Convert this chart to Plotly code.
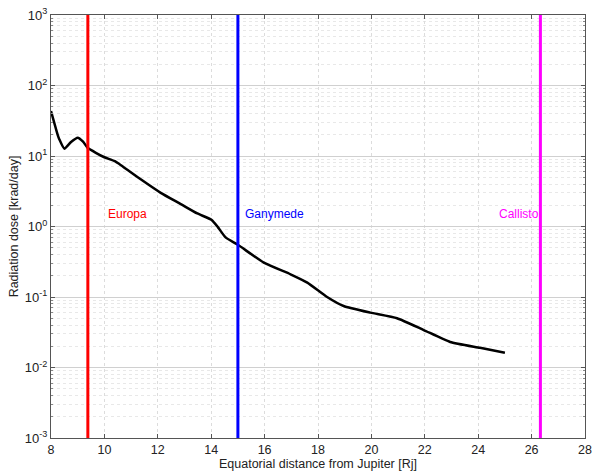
import math
import plotly.graph_objects as go

distance_rj = [8.0, 8.25, 8.31, 8.5, 8.75, 9.0, 9.2, 9.37, 9.68, 10.0, 10.37, 10.62, 11.36, 12.11, 12.86,
               13.48, 14.02, 14.25, 14.54, 15.0, 15.97, 16.97, 17.6, 18.34, 18.96, 19.96, 20.96, 21.96,
               22.95, 24.07, 25.0]
dose_krad_day = [43.5, 20.0, 17.3, 12.7, 15.8, 18.2, 16.0, 13.1, 11.1, 9.6, 8.5, 7.4, 4.67, 3.0, 2.08,
                 1.53, 1.24, 0.98, 0.7, 0.55, 0.307, 0.21, 0.16, 0.1, 0.0745, 0.06, 0.05, 0.034,
                 0.023, 0.019, 0.0162]

moon_names = ["Europa", "Ganymede", "Callisto"]
moon_distance = [9.38, 15.0, 26.33]
moon_colors = ["#ff0000", "#0000ff", "#ff00ff"]
label_x = [10.05, 15.2, 24.72]
label_y = [1.5, 1.5, 1.5]

x_ticks = [8, 10, 12, 14, 16, 18, 20, 22, 24, 26, 28]
y_exponents = [-3, -2, -1, 0, 1, 2, 3]

fig = go.Figure()
fig.add_trace(go.Scatter(x=distance_rj, y=dose_krad_day, mode="lines",
                         line=dict(color="black", width=2.5, shape="spline", smoothing=0.5),
                         showlegend=False))

for name, d, c, lx, ly in zip(moon_names, moon_distance, moon_colors, label_x, label_y):
    fig.add_trace(go.Scatter(x=[d, d], y=[1e-3, 1e3], mode="lines",
                             line=dict(color=c, width=3), showlegend=False))
    fig.add_annotation(x=lx, y=math.log10(ly), text=name, showarrow=False, xanchor="left",
                       yanchor="middle", font=dict(color=c, size=12, family="Liberation Sans, Arial"))

minor_vals = [m * 10 ** e for e in y_exponents[:-1] for m in range(2, 10)]

fig.update_xaxes(range=[8, 28], tickvals=x_ticks, ticks="inside", ticklen=4, tickcolor="#555",
                 showline=True, linecolor="#555", linewidth=1, mirror="ticks", automargin=False,
                 showgrid=True, gridcolor="#dcdcdc", griddash="dot", zeroline=False,
                 ticklabeloverflow="allow",
                 title=dict(text="Equatorial distance from Jupiter [Rj]", standoff=3,
                            font=dict(size=12.5, color="#222")),
                 tickfont=dict(size=12.5, color="#222"))
fig.update_yaxes(type="log", range=[-3, 3],
                 tickvals=[10 ** e for e in y_exponents],
                 ticktext=[f"10<sup>{e}</sup>" for e in y_exponents],
                 ticks="inside", ticklen=4, tickcolor="#555", automargin=False,
                 showline=True, linecolor="#555", linewidth=1, mirror="ticks",
                 showgrid=True, gridcolor="#d0d0d0", zeroline=False,
                 minor=dict(tickvals=minor_vals, ticks="inside", ticklen=2, tickcolor="#888",
                            showgrid=True, gridcolor="#e8e8e8", griddash="dot"),
                 title=dict(text="Radiation dose [krad/day]", standoff=3,
                            font=dict(size=12.5, color="#222")),
                 tickfont=dict(size=13, color="#222"))

fig.update_layout(width=592, height=474, margin=dict(l=51, r=7, t=15, b=36),
                  plot_bgcolor="white", paper_bgcolor="white",
                  font=dict(family="Liberation Sans, Arial", size=12, color="#222"))

fig.write_html("out.html", config={"displayModeBar": False},
               post_script="document.body.style.margin='0';")
